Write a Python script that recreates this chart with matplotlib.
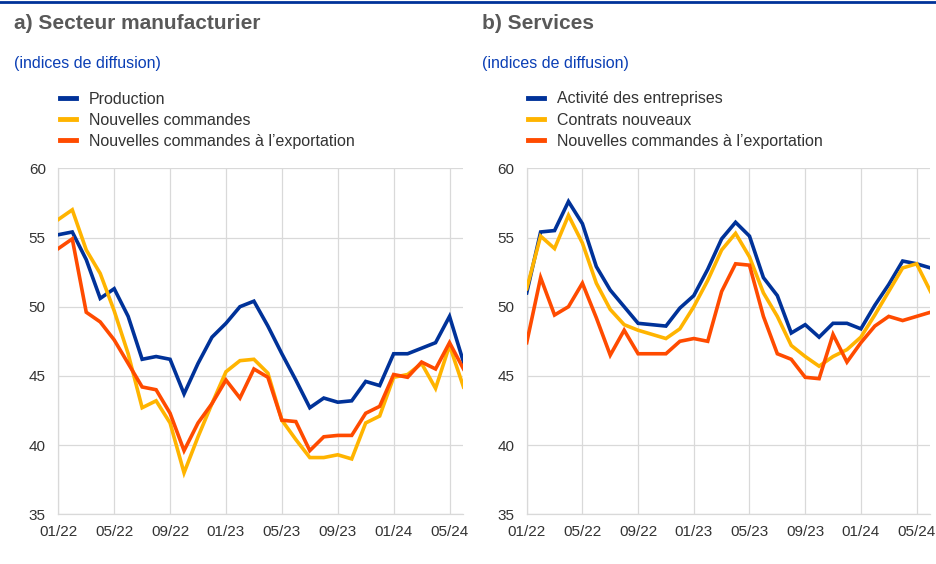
import matplotlib

matplotlib.use("Agg")
import matplotlib.pyplot as plt
from matplotlib.lines import Line2D

plt.rcParams["font.family"] = ["Liberation Sans", "DejaVu Sans"]

# monthly, 01/22 .. 06/24
months = ["01/22", "02/22", "03/22", "04/22", "05/22", "06/22", "07/22", "08/22",
          "09/22", "10/22", "11/22", "12/22", "01/23", "02/23", "03/23", "04/23",
          "05/23", "06/23", "07/23", "08/23", "09/23", "10/23", "11/23", "12/23",
          "01/24", "02/24", "03/24", "04/24", "05/24", "06/24"]
tick_labels = ["01/22", "05/22", "09/22", "01/23", "05/23", "09/23", "01/24", "05/24"]
y_ticks = [35, 40, 45, 50, 55, 60]

# a) manufacturing
production = [55.2, 55.4, 53.4, 50.6, 51.3, 49.3, 46.2, 46.4, 46.2, 43.7,
              45.9, 47.8, 48.8, 50.0, 50.4, 48.6, 46.6, 44.7, 42.7, 43.4,
              43.1, 43.2, 44.6, 44.3, 46.6, 46.6, 47.0, 47.4, 49.3, 46.0]
new_orders = [56.3, 57.0, 54.1, 52.4, 49.7, 46.6, 42.7, 43.2, 41.6, 38.0,
              40.6, 43.0, 45.3, 46.1, 46.2, 45.2, 41.8, 40.4, 39.1, 39.1,
              39.3, 39.0, 41.6, 42.1, 44.9, 45.1, 45.9, 44.1, 47.2, 44.2]
export_manuf = [54.2, 54.9, 49.6, 48.9, 47.6, 45.9, 44.2, 44.0, 42.3, 39.6,
                41.6, 43.0, 44.7, 43.4, 45.5, 44.9, 41.8, 41.7, 39.6, 40.6,
                40.7, 40.7, 42.3, 42.8, 45.1, 44.9, 46.0, 45.5, 47.4, 45.5]

# b) services
activity = [51.0, 55.4, 55.5, 57.6, 56.0, 52.9, 51.2, 50.0, 48.8, 48.7,
            48.6, 49.9, 50.8, 52.7, 54.9, 56.1, 55.1, 52.1, 50.8, 48.1,
            48.7, 47.8, 48.8, 48.8, 48.4, 50.1, 51.6, 53.3, 53.1, 52.8]
new_business = [51.3, 55.1, 54.2, 56.6, 54.6, 51.7, 49.8, 48.7, 48.3, 48.0,
                47.7, 48.4, 50.0, 51.9, 54.1, 55.3, 53.6, 51.0, 49.3, 47.2,
                46.4, 45.7, 46.4, 46.9, 47.8, 49.4, 51.1, 52.8, 53.1, 51.1]
export_serv = [47.4, 52.1, 49.4, 50.0, 51.7, 49.2, 46.5, 48.3, 46.6, 46.6,
               46.6, 47.5, 47.7, 47.5, 51.1, 53.1, 53.0, 49.3, 46.6, 46.2,
               44.9, 44.8, 48.0, 46.0, 47.4, 48.6, 49.3, 49.0, 49.3, 49.6]

BLUE, YELLOW, ORANGE = "#003299", "#ffb400", "#ff4b00"
GRID = "#d9d9d9"
TEXT = "#333333"

W, H = 937, 564
fig = plt.figure(figsize=(W / 100, H / 100), dpi=100)


def px_axes(x0, y0, x1, y1):
    return fig.add_axes([x0 / W, 1 - y1 / H, (x1 - x0) / W, (y1 - y0) / H])


def panel(x0, x1, title_x, title, series):
    ax = px_axes(x0, 168.3, x1, 514.3)
    xs = list(range(len(months)))
    for values, color, label in series:
        ax.plot(xs, values, color=color, lw=2.6, label=label,
                solid_joinstyle="miter", zorder=3)
    ax.set_xlim(0, len(months) - 1)
    ax.set_ylim(35, 60)
    ax.set_yticks(y_ticks)
    ax.set_xticks([months.index(t) for t in tick_labels])
    ax.set_xticklabels(tick_labels)
    ax.grid(True, color=GRID, lw=0.9, zorder=0)
    ax.tick_params(length=0, labelsize=11, colors=TEXT)
    ax.tick_params(axis="y", pad=9)
    ax.tick_params(axis="x", pad=7.5)
    for s in ("top", "right"):
        ax.spines[s].set_visible(False)
    for s in ("left", "bottom"):
        ax.spines[s].set_color(GRID)
        ax.spines[s].set_linewidth(0.9)

    fig.text(title_x / W, 1 - 23.5 / H, title, fontsize=15, fontweight="bold",
             color="#595959", va="center")
    fig.text(title_x / W, 1 - 64 / H, "(indices de diffusion)", fontsize=11.5,
             color="#0b3fb5", va="center")
    handles = [Line2D([], [], color=c, lw=3.5) for _, c, _ in series]
    fig.legend(handles, [lab for _, _, lab in series], loc="upper left",
               bbox_to_anchor=((title_x + 46) / W, 1 - 91.5 / H), frameon=False,
               fontsize=11.5, labelcolor=TEXT, handlelength=1.0, handletextpad=0.8,
               labelspacing=0.38, borderpad=0, borderaxespad=0)
    return ax


panel(58.3, 463.5, 14, "a) Secteur manufacturier", [
    (production, BLUE, "Production"),
    (new_orders, YELLOW, "Nouvelles commandes"),
    (export_manuf, ORANGE, "Nouvelles commandes à l\u2019exportation"),
])
panel(526.7, 930.5, 482, "b) Services", [
    (activity, BLUE, "Activité des entreprises"),
    (new_business, YELLOW, "Contrats nouveaux"),
    (export_serv, ORANGE, "Nouvelles commandes à l\u2019exportation"),
])

# thin rule along the top
fig.add_artist(Line2D([0, 1], [1 - 2 / H, 1 - 2 / H], color="#003299", lw=2,
                      transform=fig.transFigure))

fig.savefig("out.png", dpi=100, facecolor="white")
